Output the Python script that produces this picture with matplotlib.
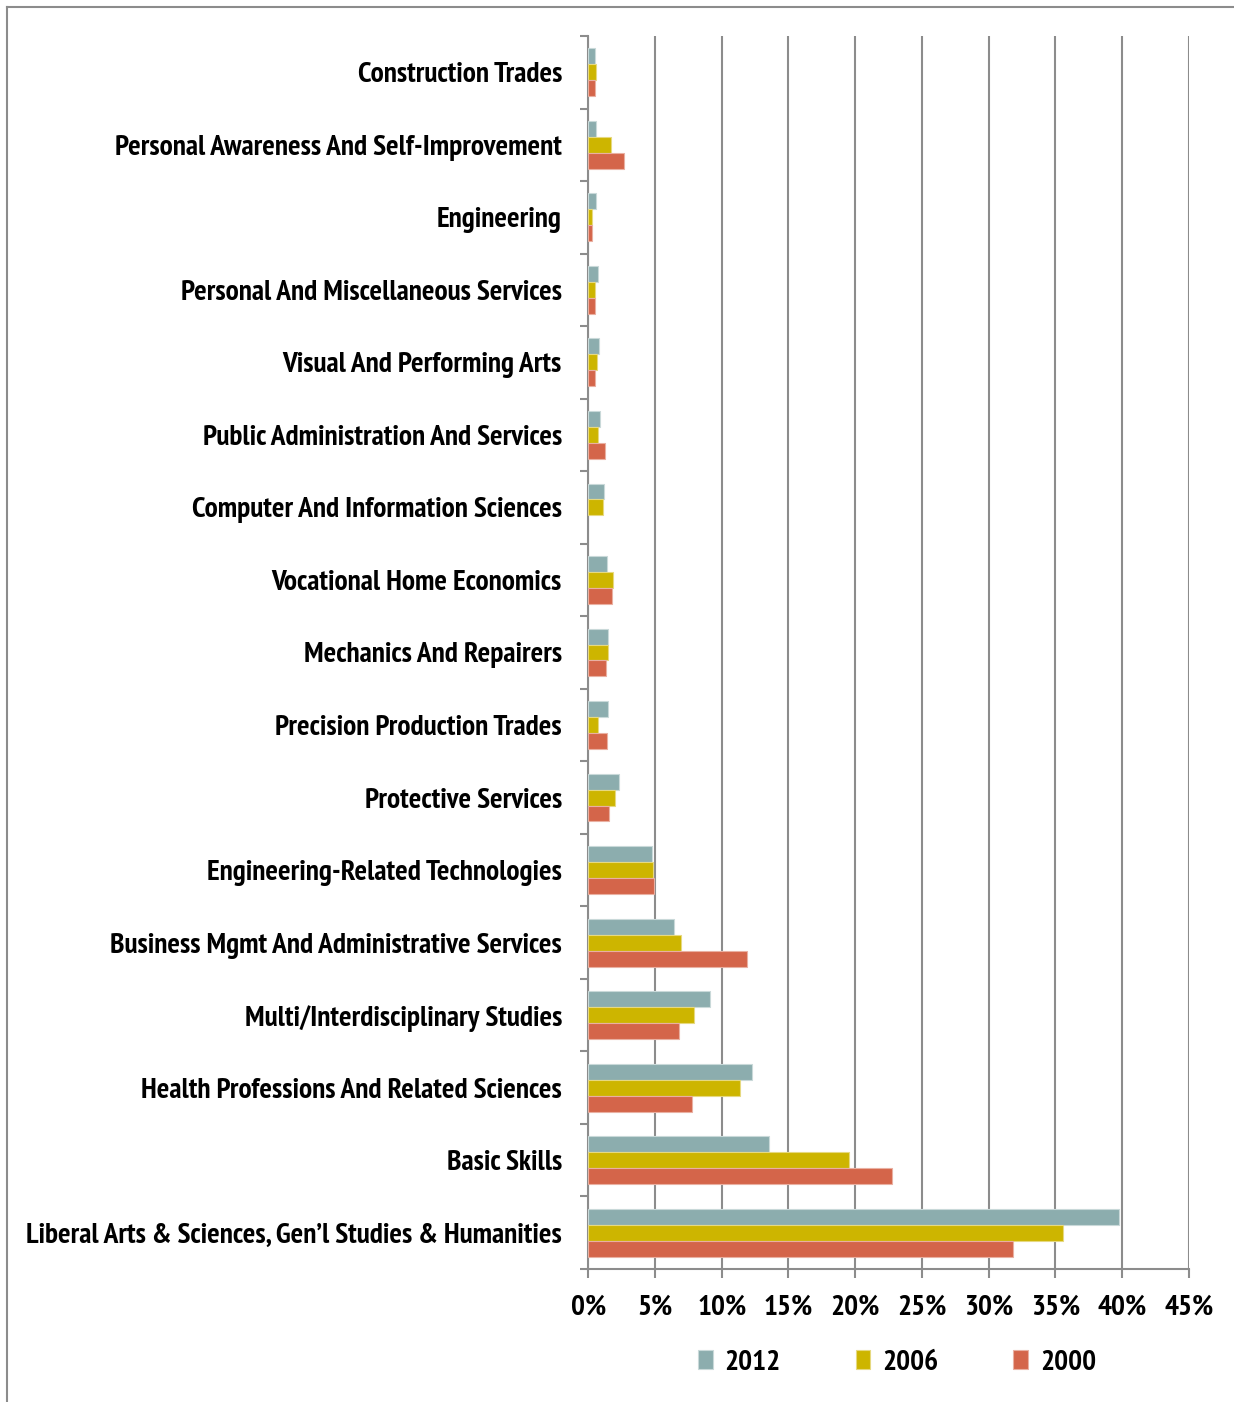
import matplotlib
matplotlib.use("Agg")
import matplotlib.pyplot as plt
from matplotlib import font_manager
import numpy as np

categories = [
    "Construction Trades",
    "Personal Awareness And Self-Improvement",
    "Engineering",
    "Personal And Miscellaneous Services",
    "Visual And Performing Arts",
    "Public Administration And Services",
    "Computer And Information Sciences",
    "Vocational Home Economics",
    "Mechanics And Repairers",
    "Precision Production Trades",
    "Protective Services",
    "Engineering-Related Technologies",
    "Business Mgmt And Administrative Services",
    "Multi/Interdisciplinary Studies",
    "Health Professions And Related Sciences",
    "Basic Skills",
    "Liberal Arts & Sciences, Gen\u2019l Studies & Humanities",
]
v2012 = [0.5, 0.55, 0.6, 0.76, 0.8, 0.86, 1.16, 1.37, 1.44, 1.44, 2.29, 4.76, 6.41, 9.1, 12.3, 13.58, 39.78]
v2006 = [0.56, 1.7, 0.3, 0.5, 0.63, 0.76, 1.1, 1.84, 1.44, 0.74, 2.01, 4.84, 6.98, 7.9, 11.36, 19.55, 35.58]
v2000 = [0.5, 2.7, 0.28, 0.5, 0.5, 1.24, 0.0, 1.76, 1.29, 1.42, 1.53, 4.94, 11.87, 6.79, 7.8, 22.78, 31.83]
series_labels = ["2012", "2006", "2000"]
xticks = [0, 5, 10, 15, 20, 25, 30, 35, 40, 45]

colors = ["#8cadae", "#cdb500", "#d4654a"]
edges = ["#c9d9d9", "#e6d980", "#e9b0a2"]

avail = {f.name for f in font_manager.fontManager.ttflist}
prefs = ["PT Sans Narrow", "Fira Sans Condensed", "Open Sans Condensed", "DejaVu Sans"]
fam = [f for f in prefs if f in avail] or ["DejaVu Sans"]
plt.rcParams["font.family"] = fam
plt.rcParams["font.weight"] = "bold"

fig = plt.figure(figsize=(12.34, 14.02), dpi=100)
ax = fig.add_axes([588.3 / 1234, 1 - 1269 / 1402, 600.4 / 1234, (1269 - 36) / 1402])

n = len(categories)
y = np.arange(n)
h = 0.22
for i, (vals, lab) in enumerate(zip([v2012, v2006, v2000], series_labels)):
    bars = ax.barh(y + (i - 1) * h, vals, height=h, color=colors[i], edgecolor=edges[i],
                   linewidth=0.8, label=lab, zorder=3)
    for b, v in zip(bars, vals):
        if v == 0:
            b.set_visible(False)

ax.set_xlim(0, 45)
ax.set_ylim(n - 0.5, -0.5)
ax.set_xticks(xticks)
ax.set_xticklabels([f"{t}%" for t in xticks])
ax.set_yticks(y)
ax.set_yticklabels(categories)
ax.set_yticks(np.arange(-0.5, n + 0.5, 1), minor=True)

grid_c = "#8c8c8c"
ax.grid(axis="x", color=grid_c, linewidth=1.5, zorder=0)
for s in ["top", "right"]:
    ax.spines[s].set_visible(False)
for s in ["left", "bottom"]:
    ax.spines[s].set_color(grid_c)
    ax.spines[s].set_linewidth(1.5)

base = 21
ax.tick_params(axis="y", which="major", length=0, pad=19, labelsize=base)
ax.tick_params(axis="y", which="minor", length=6, width=1.5, color=grid_c, direction="out")
ax.tick_params(axis="x", which="major", length=6.5, width=1.5, color=grid_c,
               direction="out", pad=12, labelsize=base)

# scale font so the longest category label spans the reference width (~537 px)
fig.canvas.draw()
r = fig.canvas.get_renderer()
wmax = max(t.get_window_extent(r).width for t in ax.get_yticklabels())
fs = base * 537.0 / wmax
fs = min(fs, 30)
for t in ax.get_xticklabels() + ax.get_yticklabels():
    t.set_fontsize(fs)
    t.set_fontweight("bold")

handles, labels = ax.get_legend_handles_labels()
leg = fig.legend(handles, labels, loc="center", bbox_to_anchor=(897 / 1234, 1 - 1363 / 1402),
                 ncol=3, frameon=False, handlelength=0.5, handleheight=0.6,
                 handletextpad=0.4, columnspacing=2.55, prop={"weight": "bold", "size": fs})

# outer frame (top and left edges visible)
fig.add_artist(plt.Line2D([7 / 1234, 7 / 1234], [0, 1 - 7 / 1402], transform=fig.transFigure,
                          color=grid_c, linewidth=1.5))
fig.add_artist(plt.Line2D([7 / 1234, 1], [1 - 7 / 1402, 1 - 7 / 1402], transform=fig.transFigure,
                          color=grid_c, linewidth=1.5))

fig.savefig("out.png", dpi=100, facecolor="white")
